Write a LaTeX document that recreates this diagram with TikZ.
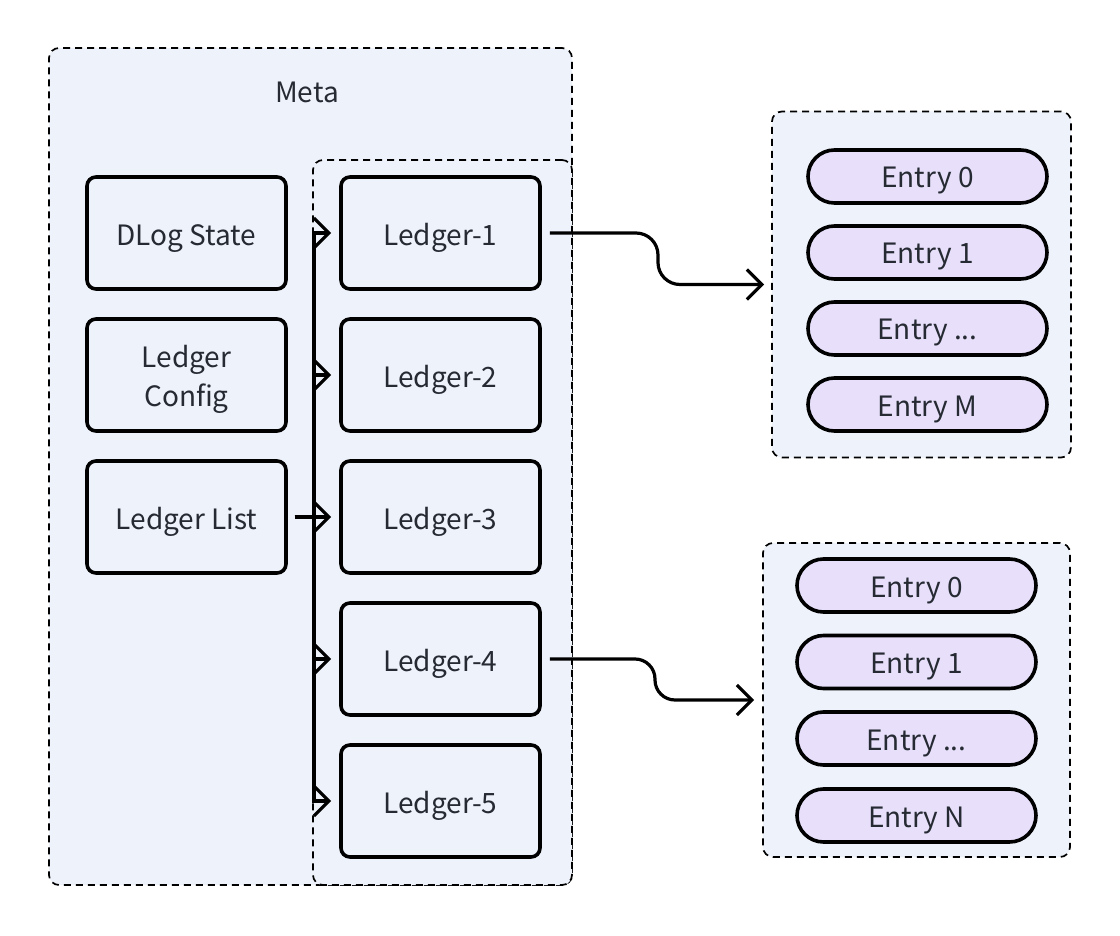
\documentclass[tikz,border=0pt]{standalone}
\usepackage{fontspec}
\setmainfont{Noto Sans CJK SC}
\usetikzlibrary{arrows.meta,shapes.misc,calc}
\definecolor{grpbg}{HTML}{EEF3FB}
\definecolor{entrybg}{HTML}{E8E0FB}
\definecolor{txt}{HTML}{262A33}
\begin{document}
\begin{tikzpicture}[x=1pt,y=-1pt,
  grp/.style={draw=black,line width=1.7pt,dash pattern=on 7pt off 5pt,fill=grpbg,rounded corners=10pt,inner sep=0pt},
  box/.style={draw=black,line width=3.6pt,rounded corners=9pt,minimum width=199pt,minimum height=112pt,inner sep=0pt,font=\fontsize{28}{39.4}\selectfont,text=txt,align=center,text height=25pt,text depth=0pt},
  entry/.style={draw=black,line width=3.6pt,rounded rectangle,fill=entrybg,minimum width=239pt,minimum height=53pt,inner sep=0pt,font=\fontsize{28}{33}\selectfont,text=txt,text height=23pt,text depth=0pt},
  conn/.style={line width=3.2pt,-{Straight Barb[length=15pt,width=30pt,line width=3.2pt]}},
  lbl/.style={font=\fontsize{28}{33}\selectfont,text=txt}]
\useasboundingbox (0,0) rectangle (1120,936);
\fill[white] (0,0) rectangle (1120,936);
% groups
\node[grp,minimum width=523pt,minimum height=837pt] (meta) at (310.5,466.5) {};
\node[lbl,anchor=base] (metalbl) at (307,102.7) {Meta};
\node[grp,minimum width=259pt,minimum height=725pt] (ledgers) at (442.5,522.5) {};
\node[grp,minimum width=299pt,minimum height=346pt] (g1) at (921.5,284.5) {};
\node[grp,minimum width=307pt,minimum height=314pt] (g2) at (916.5,700) {};
% left boxes
\node[box] (dlog) at (186.5,233) {DLog State};
\node[box,text height=63.4pt] (cfg) at (186.5,375) {Ledger\\Config};
\node[box] (list) at (186.5,517) {Ledger List};
% ledgers
\node[box] (l1) at (440.5,233) {Ledger-1};
\node[box] (l2) at (440.5,375) {Ledger-2};
\node[box] (l3) at (440.5,517) {Ledger-3};
\node[box] (l4) at (440.5,659) {Ledger-4};
\node[box] (l5) at (440.5,801) {Ledger-5};
% entries
\node[entry] (a0) at (927.5,176.5) {Entry 0};
\node[entry] (a1) at (927.5,252.5) {Entry 1};
\node[entry] (a2) at (927.5,328.5) {Entry ...};
\node[entry] (a3) at (927.5,404.5) {Entry M};
\node[entry] (b0) at (916.5,585.5) {Entry 0};
\node[entry] (b1) at (916.5,662) {Entry 1};
\node[entry] (b2) at (916.5,738.5) {Entry ...};
\node[entry] (b3) at (916.5,815.5) {Entry N};
% bus connectors
\coordinate (bus) at (314,517);
\foreach \l in {l1,l2,l3,l4,l5}{
  \draw[conn] ([xshift=7pt]list.east) -- (bus) |- ([xshift=-8pt]\l.west);
}
% curved connectors
\draw[conn,rounded corners=22pt] ([xshift=8pt]l1.east) -- (658,233) -- (658,284.5) -- ([xshift=-7pt]g1.west);
\draw[conn,rounded corners=20pt] ([xshift=8pt]l4.east) -- (655,659) -- (655,700) -- ([xshift=-8pt]g2.west);
\end{tikzpicture}
\end{document}
